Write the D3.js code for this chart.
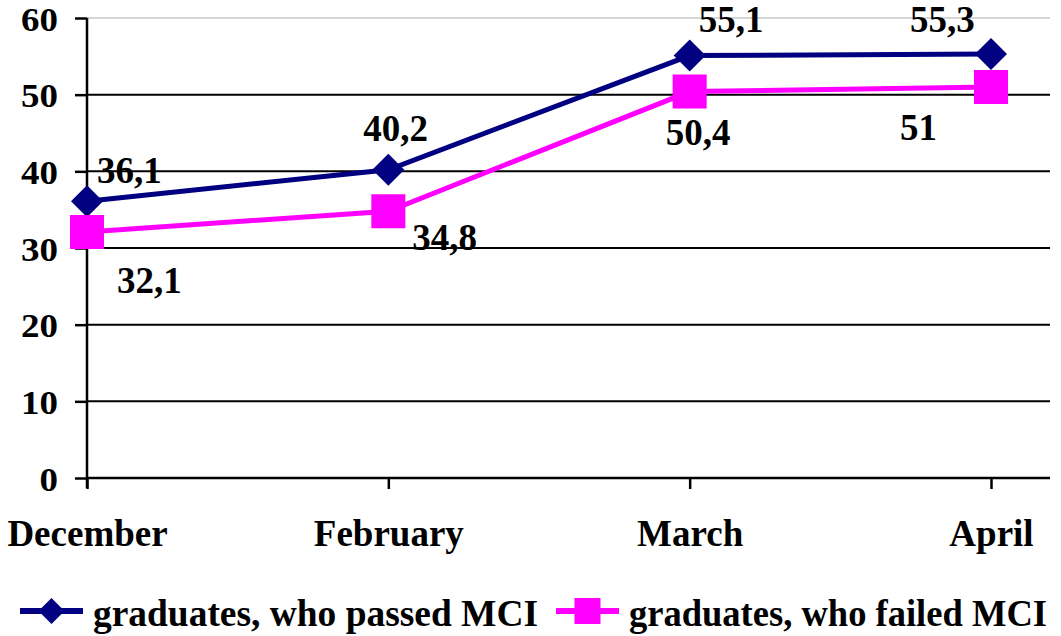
<!DOCTYPE html>
<html>
<head>
<meta charset="utf-8">
<script src="https://cdn.jsdelivr.net/npm/d3@7"></script>
<style>
  body { margin: 0; background: #fff; }
  svg text { font-family: "Liberation Serif", "Times New Roman", serif; font-weight: bold; fill: #000; }
</style>
</head>
<body>
<svg id="chart" width="1061" height="636"></svg>
<script>
// data
const months = ['December', 'February', 'March', 'April'];
const passed = [36.1, 40.2, 55.1, 55.3];
const failed = [32.1, 34.8, 50.4, 51];
const yTicks = [0, 10, 20, 30, 40, 50, 60];
const seriesNames = ['graduates, who passed MCI', 'graduates, who failed MCI'];

// label placement (offset from point, text start / baseline)
const passedLabelOffsets = [[10, -18], [-25, -29], [9, -24], [-81, -22]];
const failedLabelOffsets = [[30, 61], [24, 39], [-24, 53], [-91, 53]];

const svg = d3.select('#chart');
const plotRight = 1050;

const x = d3.scalePoint().domain(months).range([87, 991]);
const y = d3.scaleLinear().domain([0, 60]).range([478, 18]);

// gridlines
svg.append('g').selectAll('line')
    .data(yTicks)
    .enter()
    .append('line')
    .attr('x1', 87)
    .attr('x2', plotRight)
    .attr('y1', d => y(d))
    .attr('y2', d => y(d))
    .attr('stroke', d => d === 60 ? '#c8c8c8' : '#000')
    .attr('stroke-width', d => d === 60 ? 1.5 : 2);

// y axis
const yAxis = svg.append('g')
    .attr('transform', 'translate(87,0)')
    .call(d3.axisLeft(y).tickValues(yTicks).tickSize(12).tickPadding(17));
yAxis.select('.domain').attr('stroke', '#000').attr('stroke-width', 2.5)
    .attr('d', `M0,${y(60)}V${y(0) + 10}`);
yAxis.selectAll('.tick line').attr('stroke', '#000').attr('stroke-width', 2.5);
yAxis.selectAll('.tick text')
    .attr('font-size', 34)
    .attr('font-family', '"Liberation Serif", serif')
    .attr('dy', '0.36em');
yAxis.selectAll('.tick text').each(function () {
    const t = d3.select(this);
    t.attr('textLength', t.text().length * 18.5).attr('lengthAdjust', 'spacingAndGlyphs');
});

// x axis
const xAxis = svg.append('g')
    .attr('transform', `translate(0,${y(0)})`)
    .call(d3.axisBottom(x).tickSize(11).tickPadding(31));
xAxis.select('.domain').attr('stroke', '#000').attr('stroke-width', 2.5)
    .attr('d', `M87,0H${plotRight}`);
xAxis.selectAll('.tick line').attr('stroke', '#000').attr('stroke-width', 2.5);
xAxis.selectAll('.tick text')
    .attr('font-size', 37)
    .attr('font-family', '"Liberation Serif", serif')
    .attr('dy', '0.71em');

const line = d3.line().x((d, i) => x(months[i])).y(d => y(d));

function drawSeries(values, color, shape, offsets) {
    const g = svg.append('g');
    g.append('path')
        .datum(values)
        .attr('d', line)
        .attr('fill', 'none')
        .attr('stroke', color)
        .attr('stroke-width', 5);

    g.selectAll('path.marker')
        .data(values)
        .enter()
        .append('path')
        .attr('class', 'marker')
        .attr('transform', (d, i) => `translate(${x(months[i])},${y(d)})`)
        .attr('d', shape)
        .attr('fill', color);

    g.selectAll('text')
        .data(values)
        .enter()
        .append('text')
        .attr('x', (d, i) => x(months[i]) + offsets[i][0])
        .attr('y', (d, i) => y(d) + offsets[i][1])
        .attr('font-size', 37)
        .text(d => String(d).replace('.', ','));
}

const diamond = s => `M0,${-s}L${s},0L0,${s}L${-s},0Z`;
const square = s => `M${-s},${-s}H${s}V${s}H${-s}Z`;

drawSeries(passed, '#000080', diamond(16), passedLabelOffsets);
drawSeries(failed, '#ff00ff', square(17), failedLabelOffsets);

// legend
const legendItems = [
    { name: seriesNames[0], color: '#000080', shape: diamond(13), x: 20, textLen: 445 },
    { name: seriesNames[1], color: '#ff00ff', shape: square(13), x: 556, textLen: 418 }
];
const legend = svg.append('g').selectAll('g')
    .data(legendItems)
    .enter()
    .append('g')
    .attr('transform', d => `translate(${d.x},611)`);

legend.append('line')
    .attr('x1', 0).attr('x2', 63)
    .attr('stroke', d => d.color)
    .attr('stroke-width', 6);
legend.append('path')
    .attr('transform', 'translate(31.5,0)')
    .attr('d', d => d.shape)
    .attr('fill', d => d.color);
legend.append('text')
    .attr('x', 73)
    .attr('y', 15)
    .attr('font-size', 37)
    .attr('textLength', d => d.textLen)
    .attr('lengthAdjust', 'spacingAndGlyphs')
    .text(d => d.name);
</script>
</body>
</html>
